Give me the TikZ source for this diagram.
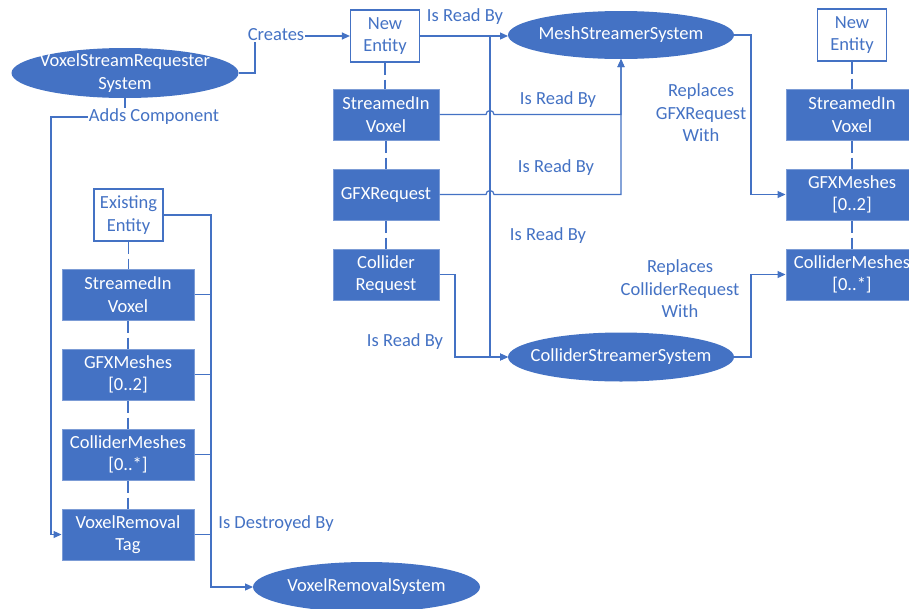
\documentclass[tikz,border=0pt]{standalone}
\usepackage{fontspec}
\setmainfont{Carlito}
\usetikzlibrary{arrows.meta,shapes.geometric}
\definecolor{ob}{HTML}{4472C4}
\begin{document}
\begin{tikzpicture}[x=1pt,y=-1pt,
  font=\fontsize{18.5}{22.5}\selectfont,
  comp/.style={rectangle, fill=ob, draw=ob!70, line width=1pt, text=white, minimum height=51pt, align=center, inner sep=0pt},
  ent/.style={rectangle, fill=white, draw=ob, line width=1.2pt, text=ob, minimum width=69pt, minimum height=52pt, align=center, inner sep=0pt},
  sys/.style={ellipse, fill=ob, draw=none, minimum width=226pt, minimum height=49pt, inner sep=0pt, outer sep=0pt},
  systxt/.style={text=white, align=center, inner sep=0pt},
  lbl/.style={text=ob, align=center, inner sep=1pt},
  wlbl/.style={text=ob, fill=white, inner sep=1pt},
  conn/.style={draw=ob, line width=1.2pt},
  arr/.style={conn, -{Triangle[length=8pt,width=7pt]}},
  dsh/.style={draw=ob, line width=1.2pt, dash pattern=on 12pt off 5pt},
]
\useasboundingbox (0,0) rectangle (909,608);
\clip (0,0) rectangle (909,608);
\fill[white] (0,0) rectangle (909,608);

% systems
\node[sys, minimum width=227pt, minimum height=50pt] (vsr) at (125,73) {};
\node[systxt] (vsrt) at (vsr) {VoxelStreamRequester\\System};
\node[sys, minimum height=48pt] (ms) at (621,35) {};
\node[systxt] (mst) at (ms) {MeshStreamerSystem};
\node[sys] (cs) at (621,357) {};
\node[systxt] (cst) at (cs) {ColliderStreamerSystem};
\node[sys, minimum width=227pt, minimum height=50pt] (vrs) at (366.5,587) {};
\node[systxt] (vrst) at (vrs) {VoxelRemovalSystem};

% center column
\node[ent] (ne) at (385,36) {New\\Entity};
\node[comp, minimum width=106pt] (sv) at (386,114.5) {StreamedIn\\Voxel};
\node[comp, minimum width=106pt] (gr) at (386,194.5) {GFXRequest};
\node[comp, minimum width=106pt] (cr) at (386,274.5) {Collider\\Request};

% right column
\node[ent] (ne2) at (852,35) {New\\Entity};
\node[comp, minimum width=132pt] (sv2) at (852,114.5) {StreamedIn\\Voxel};
\node[comp, minimum width=132pt] (gm2) at (852,194.5) {GFXMeshes\\{[0..2]}};
\node[comp, minimum width=132pt] (cm2) at (852,274.5) {ColliderMeshes\\{[0..*]}};

% left column
\node[ent] (ee) at (128.5,215) {Existing\\Entity};
\node[comp, minimum width=132pt] (sv1) at (128,294.5) {StreamedIn\\Voxel};
\node[comp, minimum width=132pt] (gm1) at (128,374.5) {GFXMeshes\\{[0..2]}};
\node[comp, minimum width=132pt] (cm1) at (128,454.5) {ColliderMeshes\\{[0..*]}};
\node[comp, minimum width=132pt] (vt1) at (128,534.5) {VoxelRemoval\\Tag};

% dashed membership lines
\draw[dsh] (ne.south) -- (ne.south |- sv.north);
\draw[dsh] (sv.south) -- (sv.south |- gr.north);
\draw[dsh] (gr.south) -- (gr.south |- cr.north);
\draw[dsh] (ne2.south) -- (sv2.north);
\draw[dsh] (sv2.south) -- (gm2.north);
\draw[dsh] (gm2.south) -- (cm2.north);
\draw[dsh] (ee.south) -- (ee.south |- sv1.north);
\draw[dsh] (sv1.south) -- (gm1.north);
\draw[dsh] (gm1.south) -- (cm1.north);
\draw[dsh] (cm1.south) -- (vt1.north);

% coordinates
\coordinate (cx) at (255,0);
\coordinate (ax) at (51,117);
\coordinate (jx) at (490,0);
\coordinate (mx) at (621,0);
\coordinate (crx) at (455,0);
\coordinate (rx) at (751,0);
\coordinate (lx) at (211,0);

% Creates
\draw[arr] (vsr.east) -- (vsr.east -| cx) |- (ne.west);
\node[wlbl] (lcreates) at (276,35) {Creates};
% Adds Component
\draw[arr] (vsr.south) |- (ax) |- (vt1.west);
\node[wlbl] (ladds) at (154,117) {Adds Component};

% New Entity -> systems
\draw[arr] (ne.east) -- (ne.east -| ms.west);
\draw[arr] (ne.east) -- (ne.east -| jx) |- (cs.west);
\node[lbl] (l1) at (465,17) {Is Read By};
\node[lbl] (l4) at (548,236) {Is Read By};

% StreamedIn -> MeshStreamer (with hop)
\draw[arr] (sv.east) -- ([xshift=-4pt]sv.east -| jx) arc[start angle=180,end angle=0,radius=4pt] -- (sv.east -| mx) -- (ms.south);
\node[lbl] (l2) at (558,100) {Is Read By};
% GFXRequest -> MeshStreamer (with hop)
\draw[arr] (gr.east) -- ([xshift=-4pt]gr.east -| jx) arc[start angle=180,end angle=0,radius=4pt] -- (gr.east -| mx) -- (ms.south);
\node[lbl] (l3) at (556,168) {Is Read By};
% Collider Request -> ColliderStreamer
\draw[arr] (cr.east) -- (cr.east -| crx) |- (cs.west);
\node[lbl] (l5) at (405,342) {Is Read By};

% systems -> right column
\draw[arr] (ms.east) -- (ms.east -| rx) |- (gm2.west);
\node[lbl] (l6) at (701,113) {Replaces\\GFXRequest\\With};
\draw[arr] (cs.east) -- (cs.east -| rx) |- (cm2.west);
\node[lbl] (l7) at (680,289) {Replaces\\ColliderRequest\\With};

% left column -> VoxelRemovalSystem
\draw[arr] (ee.east) -- (ee.east -| lx) |- (vrs.west);
\draw[conn] (sv1.east) -- (sv1.east -| lx);
\draw[conn] (gm1.east) -- (gm1.east -| lx);
\draw[conn] (cm1.east) -- (cm1.east -| lx);
\draw[conn] (vt1.east) -- (vt1.east -| lx);
\node[lbl] (l8) at (276,524) {Is Destroyed By};
\end{tikzpicture}
\end{document}
